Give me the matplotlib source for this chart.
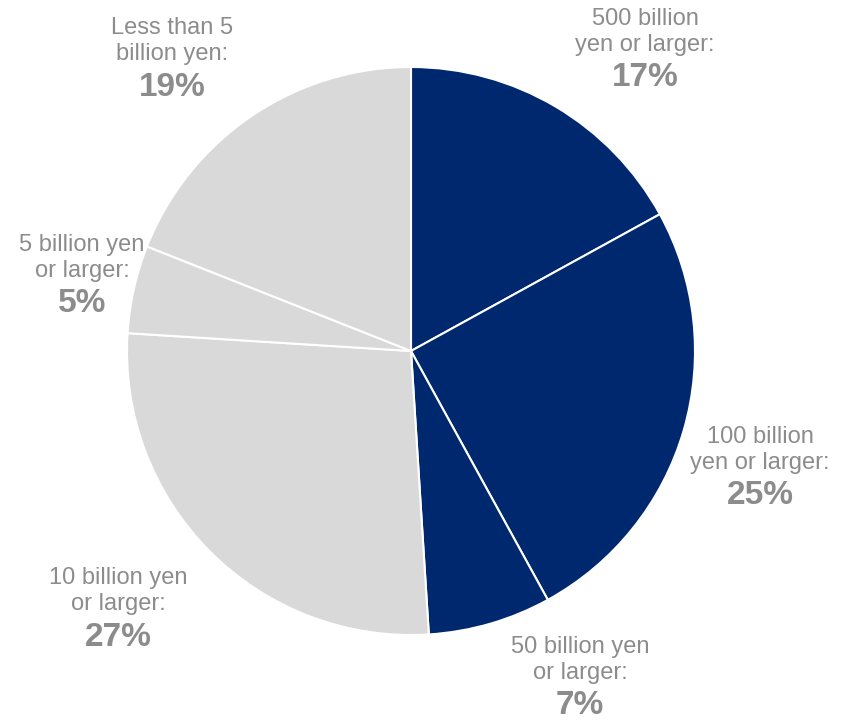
import matplotlib.pyplot as plt

plt.rcParams['font.family'] = ['Liberation Sans', 'DejaVu Sans']

labels = ['500 billion\nyen or larger:', '100 billion\nyen or larger:', '50 billion yen\nor larger:',
          '10 billion yen\nor larger:', '5 billion yen\nor larger:', 'Less than 5\nbillion yen:']
shares = [17, 25, 7, 27, 5, 19]
colors = ['#00286e', '#00286e', '#00286e', '#d9d9d9', '#d9d9d9', '#d9d9d9']

# label centres in pixel coords (x, y from top)
label_pos = [(645, 32), (760, 450), (580, 660), (118, 591), (82, 258), (172, 41)]

W, H = 849, 721
fig = plt.figure(figsize=(W / 100, H / 100), dpi=100)
ax = fig.add_axes([0, 0, 1, 1])

ax.pie(shares, colors=colors, startangle=90, counterclock=False,
       center=(411, H - 351), radius=284, frame=True,
       wedgeprops=dict(edgecolor='white', linewidth=1.5))
ax.set_xlim(0, W)
ax.set_ylim(0, H)
ax.set_aspect('equal')
ax.axis('off')

txt = '#8c8c8c'
for lab, v, (x, y) in zip(labels, shares, label_pos):
    ax.text(x, H - y, lab, ha='center', va='center', fontsize=17, color=txt, linespacing=1.25)
    ax.text(x, H - y - 46, f'{v}%', ha='center', va='center', fontsize=24, fontweight='bold', color=txt)

fig.savefig('out.png', dpi=100)
